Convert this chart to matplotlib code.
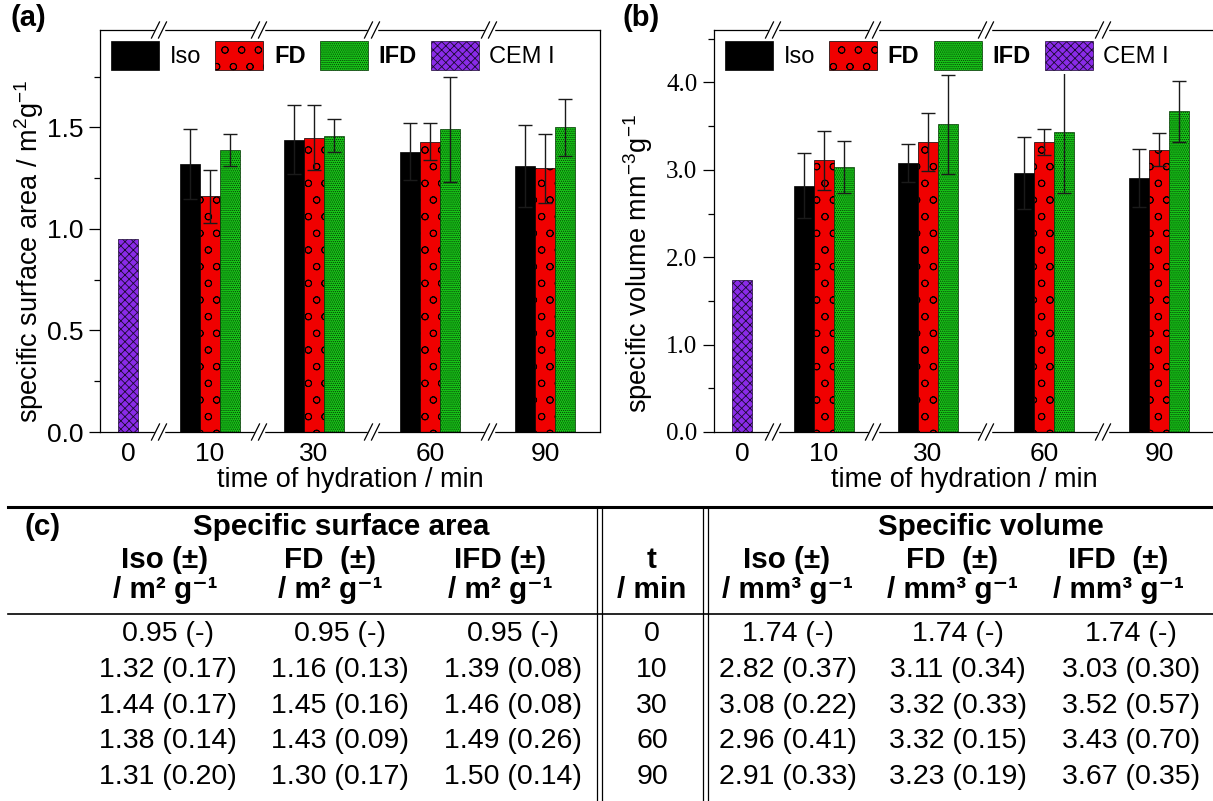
import matplotlib.pyplot as plt
from matplotlib import font_manager
from matplotlib.font_manager import FontProperties
from matplotlib.lines import Line2D
from matplotlib.ticker import MultipleLocator, FormatStrFormatter
import numpy as np

plt.rcParams.update({
    "font.family": "Liberation Sans",
    "mathtext.fontset": "custom",
    "mathtext.rm": "Liberation Sans",
    "mathtext.it": "Liberation Sans:italic",
    "mathtext.bf": "Liberation Sans:bold",
    "hatch.linewidth": 0.6,
    "axes.linewidth": 0.9,
})

# values from table (c); t = 0 is the unhydrated CEM I reference
times = [0, 10, 30, 60, 90]
series = ['Iso', 'FD', 'IFD', 'CEM I']

ssa_iso = [0.95, 1.32, 1.44, 1.38, 1.31]
ssa_iso_err = [None, 0.17, 0.17, 0.14, 0.20]
ssa_fd = [0.95, 1.16, 1.45, 1.43, 1.30]
ssa_fd_err = [None, 0.13, 0.16, 0.09, 0.17]
ssa_ifd = [0.95, 1.39, 1.46, 1.49, 1.50]
ssa_ifd_err = [None, 0.08, 0.08, 0.26, 0.14]

vol_iso = [1.74, 2.82, 3.08, 2.96, 2.91]
vol_iso_err = [None, 0.37, 0.22, 0.41, 0.33]
vol_fd = [1.74, 3.11, 3.32, 3.32, 3.23]
vol_fd_err = [None, 0.34, 0.33, 0.15, 0.19]
vol_ifd = [1.74, 3.03, 3.52, 3.43, 3.67]
vol_ifd_err = [None, 0.30, 0.57, 0.70, 0.35]

# table font: Arial Narrow look-alike if there is one
try:
    font_manager.findfont(FontProperties(family='Liberation Sans Narrow'), fallback_to_default=False)
    tab_font, tab_k = 'Liberation Sans Narrow', 1.0
except ValueError:
    tab_font, tab_k = 'Liberation Sans', 0.82

W, H = 1213, 801
fig = plt.figure(figsize=(W / 100, H / 100), dpi=100)


def fx(x):
    return x / W


def fy(y):
    return 1 - y / H


ax_a = fig.add_axes([fx(100), fy(432), 500 / W, 402 / H])
ax_b = fig.add_axes([fx(714), fy(432), 500 / W, 402 / H])

pos = [0.28, 1.10, 2.14, 3.30, 4.45]
breaks = [0.59, 1.59, 2.72, 3.89]
bw = 0.2
ekw = dict(ecolor='#1a1a1a', elinewidth=1.0, capsize=5, capthick=1.0)


def panel(ax, iso, iso_e, fd, fd_e, ifd, ifd_e, ylim, major, minor, ylabel, serif_ticks):
    g = np.array(pos[1:])
    h_iso = ax.bar(g - bw, iso[1:], bw, yerr=iso_e[1:], color='black', edgecolor='black',
                   linewidth=0.5, error_kw=ekw, zorder=2)
    h_fd = ax.bar(g, fd[1:], bw, yerr=fd_e[1:], color='#f00000', edgecolor='black',
                  hatch='o', linewidth=0.5, error_kw=ekw, zorder=2)
    h_ifd = ax.bar(g + bw, ifd[1:], bw, yerr=ifd_e[1:], color='#18c818', edgecolor='#053805',
                   hatch='........', linewidth=0.5, error_kw=ekw, zorder=2)
    h_cem = ax.bar(pos[0], iso[0], bw, color='#8a2be8', edgecolor='#1a0a30',
                   hatch='xxxx', linewidth=0.5, zorder=2)

    ax.set_xlim(0, 5)
    ax.set_ylim(*ylim)
    ax.set_xticks(pos)
    ax.set_xticklabels([str(t) for t in times])
    ax.tick_params(axis='x', length=0, pad=7, labelsize=19)
    ax.yaxis.set_major_locator(MultipleLocator(major))
    ax.yaxis.set_minor_locator(MultipleLocator(minor))
    ax.yaxis.set_major_formatter(FormatStrFormatter('%.1f'))
    ax.tick_params(axis='y', which='major', direction='out', length=8, width=0.9, pad=4)
    ax.tick_params(axis='y', which='minor', direction='out', length=4, width=0.9)
    for lab in ax.get_yticklabels():
        if serif_ticks:
            lab.set_fontfamily('Liberation Serif')
            lab.set_fontsize(18)
        else:
            lab.set_fontsize(19)

    ax.set_xlabel('time of hydration / min', fontsize=19.5)
    ax.set_ylabel(ylabel, fontsize=19.5)

    # broken-axis marks on top and bottom spines
    tr = ax.get_xaxis_transform()
    for xb in breaks:
        for yb in (0, 1):
            ax.plot([xb - 0.035, xb + 0.035], [yb, yb], transform=tr, color='white',
                    lw=2.5, clip_on=False, zorder=6)
            for dx in (-0.035, 0.035):
                ax.plot([xb + dx - 0.04, xb + dx + 0.04], [yb - 0.02, yb + 0.02],
                        transform=tr, color='black', lw=0.9, clip_on=False, zorder=7)

    leg = ax.legend([h_iso, h_fd, h_ifd, h_cem], series, loc='upper left',
                    bbox_to_anchor=(0.013, 0.984), ncol=4, fontsize=17,
                    handlelength=2.03, handleheight=1.48, handletextpad=0.45,
                    columnspacing=0.6, borderaxespad=0, borderpad=0.2,
                    frameon=True, fancybox=False)
    leg.get_frame().set_edgecolor('none')
    leg.get_frame().set_facecolor('white')
    leg.get_frame().set_alpha(1)
    leg.set_zorder(5)
    for t in leg.get_texts()[1:3]:
        t.set_fontweight('bold')


panel(ax_a, ssa_iso, ssa_iso_err, ssa_fd, ssa_fd_err, ssa_ifd, ssa_ifd_err,
      (0, 1.98), 0.5, 0.25, 'specific surface area / m$^2$g$^{-1}$', False)
panel(ax_b, vol_iso, vol_iso_err, vol_fd, vol_fd_err, vol_ifd, vol_ifd_err,
      (0, 4.6), 1.0, 0.5, 'specific volume mm$^{-3}$g$^{-1}$', True)

ax_a.yaxis.set_label_coords(-0.108, 0.45)
ax_b.yaxis.set_label_coords(-0.118, 0.42)
ax_a.xaxis.set_label_coords(0.5, -0.088)
ax_b.xaxis.set_label_coords(0.5, -0.088)

fig.text(fx(10), fy(18), '(a)', fontsize=21, fontweight='bold', va='center')
fig.text(fx(622), fy(18), '(b)', fontsize=21, fontweight='bold', va='center')

# ---- table (c) ----
fam = [tab_font, 'DejaVu Sans']
hs = 26 * tab_k
rs = 25 * tab_k

fig.add_artist(Line2D([fx(8), fx(1213)], [fy(507)] * 2, color='black', lw=2.2))
fig.add_artist(Line2D([fx(8), fx(1213)], [fy(614)] * 2, color='black', lw=1.2))
for xv in (597, 602, 703, 708):
    fig.add_artist(Line2D([fx(xv)] * 2, [fy(507), fy(801)], color='black', lw=0.9))

fig.text(fx(25), fy(527), '(c)', family=fam, fontsize=hs, fontweight='bold', va='center')
fig.text(fx(341), fy(527), 'Specific surface area', family=fam, fontsize=hs,
         fontweight='bold', va='center', ha='center')
fig.text(fx(991), fy(527), 'Specific volume', family=fam, fontsize=hs,
         fontweight='bold', va='center', ha='center')

sa_cols = [165, 330, 500]
vol_cols = [787, 952, 1118]
t_col = 652
for x, name in zip(sa_cols, ['Iso (±)', 'FD  (±)', 'IFD (±)']):
    fig.text(fx(x), fy(560), name, family=fam, fontsize=hs, fontweight='bold', ha='center', va='center')
    fig.text(fx(x), fy(590), '/ m² g⁻¹', family=fam, fontsize=hs, fontweight='bold', ha='center', va='center')
for x, name in zip(vol_cols, ['Iso (±)', 'FD  (±)', 'IFD  (±)']):
    fig.text(fx(x), fy(560), name, family=fam, fontsize=hs, fontweight='bold', ha='center', va='center')
    fig.text(fx(x), fy(590), '/ mm³ g⁻¹', family=fam, fontsize=hs, fontweight='bold', ha='center', va='center')
fig.text(fx(t_col), fy(560), 't', family=fam, fontsize=hs, fontweight='bold', ha='center', va='center')
fig.text(fx(t_col), fy(590), '/ min', family=fam, fontsize=hs, fontweight='bold', ha='center', va='center')


def cell(v, e):
    return f'{v:.2f} (-)' if e is None else f'{v:.2f} ({e:.2f})'


sa_vals = [(ssa_iso, ssa_iso_err), (ssa_fd, ssa_fd_err), (ssa_ifd, ssa_ifd_err)]
vol_vals = [(vol_iso, vol_iso_err), (vol_fd, vol_fd_err), (vol_ifd, vol_ifd_err)]
data_sa_cols = [168, 340, 513]
data_vol_cols = [788, 958, 1131]
for i, t in enumerate(times):
    y = fy(634 + 35.8 * i)
    for x, (v, e) in zip(data_sa_cols, sa_vals):
        fig.text(fx(x), y, cell(v[i], e[i]), family=fam, fontsize=rs, ha='center', va='center')
    fig.text(fx(t_col), y, str(t), family=fam, fontsize=rs, ha='center', va='center')
    for x, (v, e) in zip(data_vol_cols, vol_vals):
        fig.text(fx(x), y, cell(v[i], e[i]), family=fam, fontsize=rs, ha='center', va='center')

fig.savefig('out.png', dpi=100)
